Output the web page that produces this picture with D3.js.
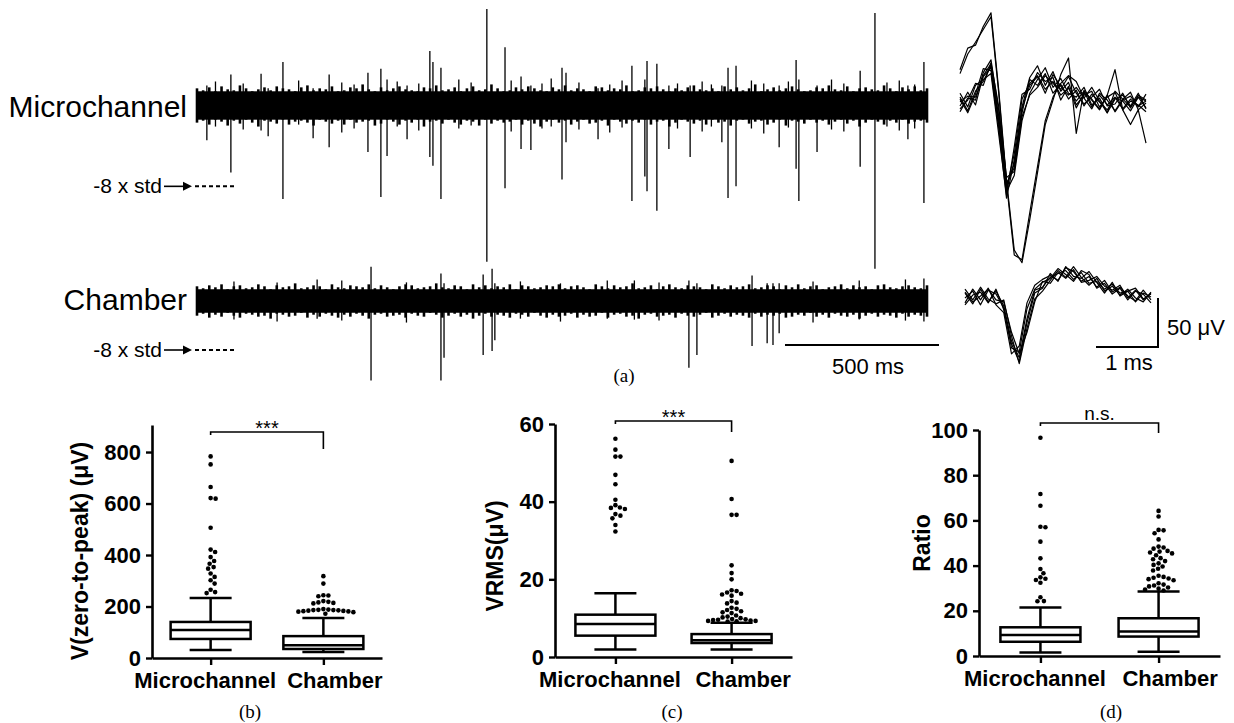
<!DOCTYPE html>
<html>
<head>
<meta charset="utf-8">
<script src="https://cdn.jsdelivr.net/npm/d3@7"></script>
<style>
  body { margin: 0; background: #fff; }
  svg { display: block; }
  text { font-family: "Liberation Sans", Arial, Helvetica, sans-serif; fill: #000; }
  .serif { font-family: "Liberation Serif", "Times New Roman", serif; }
</style>
</head>
<body>
<svg id="fig" width="1234" height="723"></svg>
<script>
// ---------------- (a) raw recordings ----------------
const recordingMs = 2370;          // length of each raw trace, ms
const scaleBarMs = 500;

// noise envelope of each trace (μV), samples spread evenly over the recording
const microNoiseHi = [
  17,15,18,14,19,16,15,20,17,14,16,18,15,19,17,16,14,18,20,15,17,16,19,14,15,18,17,21,16,14,
  18,15,17,19,16,15,14,18,17,20,15,16,18,14,17,19,15,16,21,17,14,15,18,16,19,17,15,14,18,16,
  20,15,17,16,14,19,18,15,17,16,20,14,15,18,17,19,16,14,17,15,18,20,16,15,17,14,19,16,18,15,
  17,21,14,16,18,15,17,19,16,14,15,18,17,20,16,15,19,14,17,18,16,15,20,17,14,18,16,19,15,17];
const microNoiseLo = [
  -18,-16,-20,-15,-17,-21,-16,-19,-15,-18,-22,-16,-17,-19,-15,-20,-17,-16,-18,-21,-15,-17,-19,-16,-20,-15,-18,-17,-16,-21,
  -19,-15,-17,-20,-16,-18,-15,-22,-17,-16,-19,-15,-18,-20,-16,-17,-21,-15,-19,-16,-18,-17,-15,-20,-16,-19,-22,-17,-15,-18,
  -16,-20,-17,-15,-19,-18,-16,-21,-15,-17,-19,-16,-18,-15,-20,-17,-16,-22,-18,-15,-17,-19,-16,-20,-15,-18,-17,-21,-16,-15,
  -19,-17,-16,-20,-18,-15,-21,-16,-17,-19,-15,-18,-16,-20,-17,-15,-19,-16,-22,-18,-15,-17,-20,-16,-18,-15,-19,-17,-16,-18];
const chamberNoiseHi = [
  15,13,16,14,17,12,15,16,13,14,17,15,12,16,14,15,18,13,14,16,15,12,17,14,13,16,15,14,17,13,
  16,14,12,15,17,16,13,14,15,18,14,13,16,15,12,17,14,16,13,15,14,17,12,16,15,13,14,16,15,17,
  13,15,16,14,12,17,15,13,16,14,15,18,13,14,16,12,15,17,14,13,16,15,14,12,17,15,13,16,14,15,
  17,13,14,16,15,12,16,14,17,13,15,16,12,14,15,17,13,16,14,15,12,16,17,14,13,15,16,14,13,16];
const chamberNoiseLo = [
  -15,-13,-17,-14,-16,-12,-15,-17,-13,-14,-16,-15,-18,-13,-14,-16,-15,-12,-17,-14,-16,-13,-15,-17,-14,-16,-13,-15,-18,-14,
  -13,-16,-15,-14,-17,-13,-15,-16,-12,-14,-17,-15,-13,-16,-14,-18,-15,-13,-16,-14,-15,-17,-13,-14,-16,-12,-15,-17,-14,-16,
  -15,-13,-17,-14,-16,-15,-12,-17,-14,-13,-16,-15,-18,-14,-13,-16,-15,-14,-17,-13,-15,-16,-14,-12,-17,-15,-13,-16,-14,-15,
  -17,-13,-16,-14,-15,-13,-17,-16,-14,-15,-12,-16,-14,-17,-13,-15,-16,-14,-18,-15,-13,-16,-14,-15,-17,-13,-16,-14,-15,-16];

// spikes: [time ms, positive peak μV, negative peak μV]
const microSpikes = [
  [32,20,-36],[110,31,-69],[208,32,-26],[231,17,-32],[279,44,-96],[377,17,-34],[429,31,-43],
  [555,33,-48],[597,37,-94],[617,26,-52],[682,20,-35],[756,55,-53],[766,44,-62],[792,38,-96],
  [941,98,-160],[1000,59,-85],[1052,29,-45],[1084,20,-46],[1185,38,-76],[1198,33,-38],[1302,17,-35],
  [1412,40,-98],[1454,26,-73],[1461,45,-88],[1493,42,-108],[1532,20,-45],[1601,20,-53],[1704,20,-38],
  [1724,38,-95],[1750,40,-83],[1890,20,-43],[1945,46,-65],[1954,26,-98],[2013,20,-48],[2153,35,-63],
  [2201,94,-167],[2308,20,-35],[2360,44,-100],
  [60,24,-22],[150,22,-25],[330,25,-20],[470,23,-28],[510,21,-24],[650,24,-22],[720,22,-26],
  [850,26,-24],[890,23,-21],[1020,25,-27],[1120,22,-24],[1150,27,-22],[1240,23,-25],[1340,21,-28],
  [1380,25,-23],[1560,22,-24],[1640,24,-27],[1670,21,-22],[1800,25,-24],[1840,22,-29],[1920,24,-23],
  [2060,26,-25],[2100,22,-27],[2240,23,-22],[2280,25,-26],[2330,21,-24]
];
const chamberSpikes = [
  [565,35,-81],[792,28,-81],[802,18,-58],[929,27,-55],[958,33,-51],[967,18,-40],[1597,21,-68],
  [1623,18,-55],[1802,26,-46],[1851,18,-43],[1870,18,-45],[1890,18,-33],[1332,21,-18],
  [120,20,-19],[260,19,-21],[390,22,-18],[470,21,-20],[680,19,-22],[1050,20,-18],[1180,18,-21],
  [1420,21,-19],[1500,19,-20],[2000,20,-22],[2150,21,-19],[2300,22,-20],[2360,23,-21]
];
// detection thresholds (-8 x std), μV
const microThreshold = -83;
const chamberThreshold = -50;

// sorted spike waveforms, μV, sampled every 0.125 ms over 3 ms
const waveStepMs = 0.125;
const microWaves = [
  [34,56,59,78,92,13,-79,-150,-163,-119,-71,-22,3,29,46,-31,13,3,-7,8,34,-7,-22,-7,-41],
  [30,50,62,75,88,10,-82,-155,-160,-112,-65,-18,6,20,28,22,5,16,2,-10,12,4,-4,6,2],
  [6,-8,12,22,38,-22,-88,-52,4,20,28,14,22,8,15,2,12,-4,8,-2,6,-6,4,-3,2],
  [-9,5,3,31,44,-8,-82,-66,-10,24,18,30,10,19,4,13,-3,9,1,-7,5,2,-8,6,-5],
  [10,-4,18,24,30,-32,-94,-45,9,14,31,22,26,3,17,-5,10,4,-6,8,-9,3,7,-4,9],
  [-3,11,-2,28,40,-14,-90,-74,-18,10,24,36,16,25,10,6,16,-2,5,-10,4,8,-3,10,-6],
  [4,-10,9,35,33,-26,-97,-58,-4,26,38,18,32,12,21,-2,8,12,-4,6,11,-7,2,-2,-9],
  [-6,3,20,18,41,-4,-76,-70,-14,8,16,28,20,14,27,10,-1,6,14,-3,-1,10,-5,8,3],
  [1,7,6,27,36,-18,-84,-62,-6,18,27,10,29,17,8,16,5,-6,10,3,-8,4,11,-7,0]
];
const chamberWaves = [
  [4,-7,8,-5,6,-9,-45,-62,-22,7,10,20,24,27,18,25,14,16,8,13,4,6,9,-2,3],
  [-6,8,-3,9,-8,-16,-58,-50,-6,12,18,22,17,30,26,16,21,10,17,5,10,1,-4,7,-3],
  [8,-3,10,-2,-7,-3,-40,-68,-32,-2,6,17,27,20,31,20,12,19,6,11,2,8,-1,-5,5],
  [-1,6,-8,7,3,-11,-52,-56,-12,8,15,19,29,23,16,27,23,9,14,3,9,-3,6,3,-6],
  [-8,2,5,-6,8,-13,-48,-66,-26,4,9,24,16,31,21,19,26,15,4,15,1,6,-5,4,0],
  [5,-5,1,8,-3,-5,-36,-58,-36,-5,16,14,25,19,28,15,17,21,11,7,12,-1,7,-3,4]
];
const waveBarMs = 1;
const waveBarUV = 50;

// ---------------- (b)-(d) box plots ----------------
const groups = ["Microchannel", "Chamber"];
// [min, q1, median, q3, max]
const ampBox = [[31, 74, 109, 140, 233], [23, 35, 50, 85, 155]];
const ampOutMicro = [783, 752, 664, 621, 619, 506, 421, 412, 392, 377, 366, 353, 347, 328, 315, 302, 289, 265, 256, 252];
const ampOutChamber = [318, 289, 244, 240, 243, 221, 218, 216, 214, 212, 190, 188, 187, 186, 186, 185, 184, 183, 182, 181, 180, 178, 172];
const ampTicks = [0, 200, 400, 600, 800];

const rmsBox = [[1.9, 5.5, 8.5, 10.9, 16.4], [1.9, 3.6, 4.3, 5.9, 8.8]];
const rmsOutMicro = [56.2, 53.4, 51.6, 51.6, 46.9, 44.5, 40.5, 39.1, 38.5, 38.4, 38.1, 36.8, 36.4, 35.7, 34.0, 32.3];
const rmsOutChamber = [50.5, 40.7, 36.6, 36.6, 23.6, 21.6, 20.0, 17.2, 17.0, 16.6, 16.3, 16.1, 15.8, 14.4, 14.0, 13.8,
  12.7, 12.4, 12.1, 11.8, 11.5, 11.3, 10.7, 10.4, 10.2, 10.0, 9.8, 9.7, 9.6, 9.5, 9.4, 9.3, 9.3, 9.2, 9.1];
const rmsTicks = [0, 20, 40, 60];

const ratioBox = [[1.5, 6.3, 9.3, 12.7, 21.5], [1.9, 8.6, 10.8, 16.7, 28.5]];
const ratioOutMicro = [96.6, 71.7, 66.5, 57.2, 57.0, 50.6, 43.2, 38.5, 36.6, 34.8, 34.2, 33.6, 32.4, 26.0, 24.3, 24.2];
const ratioOutChamber = [64.2, 61.7, 55.8, 55.6, 54.3, 51.6, 48.4, 48.0, 47.5, 46.5, 46.2, 45.8, 45.4, 44.6, 43.3, 42.8,
  42.0, 41.0, 40.3, 39.6, 38.6, 37.8, 35.5, 35.0, 34.6, 34.3, 34.0, 33.5, 32.2, 31.6, 31.2, 30.8, 30.3, 29.8, 29.4, 29.0];
const ratioTicks = [0, 20, 40, 60, 80, 100];

const svg = d3.select("#fig");

// ================= panel (a) =================
const tx = d3.scaleLinear().domain([0, recordingMs]).range([197, 927]);
const traces = [
  { name: "Microchannel", hi: microNoiseHi, lo: microNoiseLo, spikes: microSpikes, thr: microThreshold,
    y: d3.scaleLinear().domain([-100, 100]).range([105 + 98, 105 - 98]), labelY: 117, thrTextY: 193 },
  { name: "Chamber", hi: chamberNoiseHi, lo: chamberNoiseLo, spikes: chamberSpikes, thr: chamberThreshold,
    y: d3.scaleLinear().domain([-100, 100]).range([301 + 98, 301 - 98]), labelY: 310, thrTextY: 357 }
];

const gA = svg.append("g");
traces.forEach(tr => {
  const n = tr.hi.length;
  const dt = recordingMs / (n - 1);
  const band = tr.hi.map((h, i) => ({ t: i * dt, hi: h, lo: tr.lo[i] }));
  // solid core of the noise band: the part every sample covers
  const coreHi = d3.min(tr.hi), coreLo = d3.max(tr.lo);
  gA.append("rect")
    .attr("x", tx(0)).attr("width", tx(recordingMs) - tx(0))
    .attr("y", tr.y(coreHi)).attr("height", tr.y(coreLo) - tr.y(coreHi))
    .attr("fill", "#000");
  // each noise sample as a short vertical excursion
  gA.append("g").selectAll("line").data(band).join("line")
    .attr("x1", d => tx(d.t)).attr("x2", d => tx(d.t))
    .attr("y1", d => tr.y(d.hi)).attr("y2", d => tr.y(d.lo))
    .attr("stroke", "#000").attr("stroke-width", 2.6);
  gA.append("g").selectAll("line").data(tr.spikes).join("line")
    .attr("x1", d => tx(d[0])).attr("x2", d => tx(d[0]))
    .attr("y1", d => tr.y(d[1])).attr("y2", d => tr.y(d[2]))
    .attr("stroke", "#000").attr("stroke-width", 1.3);

  gA.append("text").attr("x", 187).attr("y", tr.labelY)
    .attr("text-anchor", "end").style("font-size", "30px").text(tr.name);

  // threshold marker
  const ty = tr.y(tr.thr);
  gA.append("text").attr("x", 162).attr("y", tr.thrTextY)
    .attr("text-anchor", "end").style("font-size", "21px").text("-8 x std");
  gA.append("line").attr("x1", 164).attr("x2", 184).attr("y1", ty).attr("y2", ty)
    .attr("stroke", "#000").attr("stroke-width", 1.6);
  gA.append("path").attr("d", `M183,${ty - 4.5}L192,${ty}L183,${ty + 4.5}Z`).attr("fill", "#000");
  gA.append("line").attr("x1", 195).attr("x2", 234).attr("y1", ty).attr("y2", ty)
    .attr("stroke", "#000").attr("stroke-width", 2).attr("stroke-dasharray", "4,3");
});

// 500 ms scale bar
gA.append("line").attr("x1", 939 - (tx(scaleBarMs) - tx(0))).attr("x2", 939).attr("y1", 345).attr("y2", 345)
  .attr("stroke", "#000").attr("stroke-width", 2);
gA.append("text").attr("x", 868).attr("y", 374).attr("text-anchor", "middle")
  .style("font-size", "22px").text(scaleBarMs + " ms");

// spike waveforms
const waveSets = [
  { waves: microWaves, x: d3.scaleLinear().domain([0, 3]).range([960, 1146]), y: d3.scaleLinear().domain([0, 50]).range([103, 54]) },
  { waves: chamberWaves, x: d3.scaleLinear().domain([0, 3]).range([965, 1151]), y: d3.scaleLinear().domain([0, 50]).range([297, 248]) }
];
waveSets.forEach(ws => {
  const line = d3.line().x((d, i) => ws.x(i * waveStepMs)).y(d => ws.y(d));
  gA.append("g").selectAll("path").data(ws.waves).join("path")
    .attr("d", line).attr("fill", "none").attr("stroke", "#000")
    .attr("stroke-width", 1.2).attr("stroke-linejoin", "round");
});
const wx = waveSets[1].x, wy = waveSets[1].y;
const barLen = wx(waveBarMs) - wx(0);
const barH = wy(0) - wy(waveBarUV);
gA.append("path")
  .attr("d", `M${1158 - barLen},347H1158V${347 - barH}`)
  .attr("fill", "none").attr("stroke", "#000").attr("stroke-width", 2);
gA.append("text").attr("x", 1167).attr("y", 335).style("font-size", "22px").text(waveBarUV + " μV");
gA.append("text").attr("x", 1129).attr("y", 370).attr("text-anchor", "middle")
  .style("font-size", "22px").text(waveBarMs + " ms");

gA.append("text").attr("class", "serif").attr("x", 624).attr("y", 382)
  .attr("text-anchor", "middle").style("font-size", "19px").text("(a)");

// ================= panels (b)-(d) =================
const panels = [
  { box: ampBox, out: [ampOutMicro, ampOutChamber], ticks: ampTicks, top: 905,
    label: "V(zero-to-peak) (μV)", sig: "***", axisX: 152, axisEnd: 382, y0: 658, y1: 425,
    labelX: 80, labelY: 551, tag: "(b)", tagX: 250, bracketY: 432, legL: 3, legR: 17 },
  { box: rmsBox, out: [rmsOutMicro, rmsOutChamber], ticks: rmsTicks, top: 60,
    label: "VRMS(μV)", sig: "***", axisX: 555, axisEnd: 792, y0: 657, y1: 424,
    labelX: 495, labelY: 556, tag: "(c)", tagX: 672, bracketY: 421, legL: 3, legR: 11 },
  { box: ratioBox, out: [ratioOutMicro, ratioOutChamber], ticks: ratioTicks, top: 100,
    label: "Ratio", sig: "n.s.", axisX: 979, axisEnd: 1220, y0: 656, y1: 430,
    labelX: 922, labelY: 543, tag: "(d)", tagX: 1111, bracketY: 423, legL: 3, legR: 10 }
];

const dotR = 2.3;
function swarm(values, cx, y) {
  const placed = [];
  const minD = dotR * 2 + 0.4;
  values.slice().sort((a, b) => b - a).forEach(v => {
    const py = y(v);
    for (let k = 0; k < 200; k++) {
      const off = (k % 2 ? 1 : -1) * Math.ceil(k / 2) * 0.5;
      const px = cx + off;
      if (placed.every(p => (p.x - px) ** 2 + (p.y - py) ** 2 >= minD * minD)) {
        placed.push({ x: px, y: py });
        break;
      }
    }
  });
  return placed;
}

panels.forEach(p => {
  const g = svg.append("g");
  const y = d3.scaleLinear().domain([0, p.top]).range([p.y0, p.y1]);
  const x = d3.scalePoint().domain(groups).range([p.axisX, p.axisEnd]).padding(0.52);

  const yAxis = g.append("g").attr("transform", `translate(${p.axisX},0)`)
    .call(d3.axisLeft(y).tickValues(p.ticks).tickSize(6).tickSizeOuter(0).tickPadding(5));
  const xAxis = g.append("g").attr("transform", `translate(0,${p.y0})`)
    .call(d3.axisBottom(x).tickSize(7).tickSizeOuter(0).tickPadding(7));
  [yAxis, xAxis].forEach(ax => {
    ax.select(".domain").attr("stroke", "#000").attr("stroke-width", 2.6);
    ax.selectAll(".tick line").attr("stroke", "#000").attr("stroke-width", 2.4);
    ax.selectAll(".tick text").attr("fill", "#000")
      .style("font-size", "22px").style("font-weight", "bold");
  });
  // category labels sit slightly apart from their ticks
  xAxis.selectAll(".tick text").attr("dx", (d, i) => (i === 0 ? -6 : 11));

  g.append("text")
    .attr("transform", `translate(${p.labelX},${p.labelY}) rotate(-90)`)
    .attr("text-anchor", "middle").attr("dy", "0.35em")
    .style("font-size", "23px").style("font-weight", "bold").text(p.label);

  // boxes
  const bw = 40, cap = 21;
  p.box.forEach((s, i) => {
    const cx = x(groups[i]);
    const [mn, q1, md, q3, mx] = s;
    const bg = g.append("g").attr("stroke", "#000").attr("stroke-width", 2.5).attr("fill", "none");
    bg.append("line").attr("x1", cx).attr("x2", cx).attr("y1", y(q3)).attr("y2", y(mx));
    bg.append("line").attr("x1", cx).attr("x2", cx).attr("y1", y(q1)).attr("y2", y(mn));
    bg.append("line").attr("x1", cx - cap).attr("x2", cx + cap).attr("y1", y(mx)).attr("y2", y(mx));
    bg.append("line").attr("x1", cx - cap).attr("x2", cx + cap).attr("y1", y(mn)).attr("y2", y(mn));
    bg.append("rect").attr("x", cx - bw).attr("width", bw * 2)
      .attr("y", y(q3)).attr("height", y(q1) - y(q3)).attr("fill", "#fff");
    bg.append("line").attr("x1", cx - bw).attr("x2", cx + bw).attr("y1", y(md)).attr("y2", y(md));

    g.append("g").selectAll("circle").data(swarm(p.out[i], cx, y)).join("circle")
      .attr("cx", d => d.x).attr("cy", d => d.y).attr("r", dotR).attr("fill", "#000");
  });

  // significance bracket
  const xl = x(groups[0]), xr = x(groups[1]);
  g.append("path")
    .attr("d", `M${xl},${p.bracketY + p.legL}V${p.bracketY}H${xr}V${p.bracketY + p.legR}`)
    .attr("fill", "none").attr("stroke", "#000").attr("stroke-width", 1.6);
  const sigText = g.append("text").attr("x", (xl + xr) / 2).attr("text-anchor", "middle").text(p.sig);
  if (p.sig === "n.s.") sigText.attr("y", p.bracketY - 3).style("font-size", "19px");
  else sigText.attr("y", p.bracketY + 3).style("font-size", "20px");

  g.append("text").attr("class", "serif").attr("x", p.tagX).attr("y", 718)
    .attr("text-anchor", "middle").style("font-size", "19px").text(p.tag);
});
</script>
</body>
</html>
